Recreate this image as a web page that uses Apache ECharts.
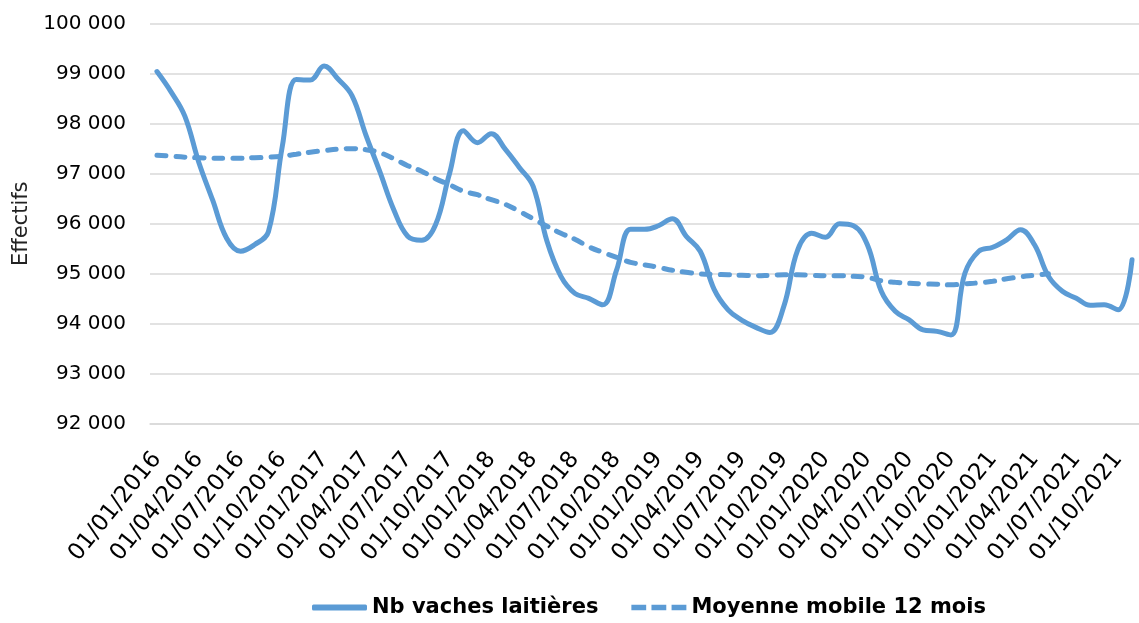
<!DOCTYPE html>
<html>
<head>
<meta charset="utf-8">
<script src="https://cdn.jsdelivr.net/npm/echarts@6.0.0/dist/echarts.min.js"></script>
<style>
  html, body { margin: 0; padding: 0; background: #fff; }
  #chart { width: 1139px; height: 623px; }
</style>
</head>
<body>
<div id="chart"></div>
<script>
// mois de janvier 2016 à novembre 2021
const months = [
  '01/01/2016', '01/02/2016', '01/03/2016', '01/04/2016', '01/05/2016', '01/06/2016',
  '01/07/2016', '01/08/2016', '01/09/2016', '01/10/2016', '01/11/2016', '01/12/2016',
  '01/01/2017', '01/02/2017', '01/03/2017', '01/04/2017', '01/05/2017', '01/06/2017',
  '01/07/2017', '01/08/2017', '01/09/2017', '01/10/2017', '01/11/2017', '01/12/2017',
  '01/01/2018', '01/02/2018', '01/03/2018', '01/04/2018', '01/05/2018', '01/06/2018',
  '01/07/2018', '01/08/2018', '01/09/2018', '01/10/2018', '01/11/2018', '01/12/2018',
  '01/01/2019', '01/02/2019', '01/03/2019', '01/04/2019', '01/05/2019', '01/06/2019',
  '01/07/2019', '01/08/2019', '01/09/2019', '01/10/2019', '01/11/2019', '01/12/2019',
  '01/01/2020', '01/02/2020', '01/03/2020', '01/04/2020', '01/05/2020', '01/06/2020',
  '01/07/2020', '01/08/2020', '01/09/2020', '01/10/2020', '01/11/2020', '01/12/2020',
  '01/01/2021', '01/02/2021', '01/03/2021', '01/04/2021', '01/05/2021', '01/06/2021',
  '01/07/2021', '01/08/2021', '01/09/2021', '01/10/2021', '01/11/2021'
]

// nombre de vaches laitières
const vaches = [
  99040, 98640, 98150, 97230, 96470, 95710, 95450, 95580, 95840, 97550, 98880, 98870,
  99150, 98890, 98560, 97770, 97040, 96280, 95750, 95670, 95980, 97000, 97860, 97620,
  97800, 97490, 97130, 96750, 95650, 94950, 94610, 94510, 94380, 95080, 95890, 95890,
  95960, 96100, 95750, 95450, 94690, 94280, 94070, 93930, 93830, 94350, 95480, 95810,
  95730, 96000, 95960, 95580, 94650, 94250, 94080, 93880, 93850, 93780, 95010, 95450,
  95530, 95680, 95880, 95580, 94950, 94650, 94510, 94370, 94380, 94280, 95280
]

// moyenne mobile 12 mois (s'arrête en mai 2021)
const moyenne = [
  97370, 97350, 97330, 97320, 97310, 97310, 97310, 97320, 97330, 97350, 97390, 97430,
  97460, 97490, 97500, 97480, 97420, 97300, 97160, 97050, 96900, 96780, 96650, 96580,
  96480, 96390, 96250, 96100, 95950, 95810, 95690, 95540, 95430, 95330, 95230, 95180,
  95130, 95070, 95030, 95000, 94990, 94980, 94970, 94960, 94970, 94980, 94980, 94970,
  94960, 94960, 94950, 94930, 94860, 94830, 94810, 94800, 94790, 94780, 94800, 94820,
  94850, 94900, 94940, 94970, 95000
]

const chart = echarts.init(document.getElementById('chart'))
const font = 'DejaVu Sans'
const blue = '#5b9bd5'

chart.setOption({
  animation: false,
  grid: {
    left: 150,
    right: 0,
    top: 23.5,
    bottom: 199
  },
  legend: {
    left: 307,
    top: 592,
    itemWidth: 55,
    itemHeight: 6,
    itemGap: 33,
    itemStyle: { color: blue },
    textStyle: {
      fontFamily: font,
      fontWeight: 'bold',
      fontSize: 21,
      color: '#000'
    },
    data: [
      { name: 'Nb vaches laitières', icon: 'roundRect' },
      { name: 'Moyenne mobile 12 mois', icon: 'path://M0,0h14v5h-14z M19,0h14v5h-14z M38,0h14v5h-14z' }
    ]
  },
  xAxis: {
    type: 'category',
    data: months,
    boundaryGap: true,
    axisLine: { lineStyle: { color: '#d9d9d9', width: 1.5 } },
    axisTick: { interval: 2, length: 9, lineStyle: { color: '#d9d9d9', width: 1.5 } },
    axisLabel: {
      interval: 2,
      rotate: 51,
      margin: 31,
      fontFamily: font,
      fontSize: 23,
      color: '#000'
    },
    splitLine: { show: false }
  },
  yAxis: {
    type: 'value',
    min: 92000,
    max: 100000,
    interval: 1000,
    name: 'Effectifs',
    nameLocation: 'middle',
    nameGap: 116,
    nameTextStyle: {
      fontFamily: font,
      fontSize: 21,
      color: '#222'
    },
    axisLine: { show: false },
    axisTick: { show: false },
    axisLabel: {
      margin: 24,
      fontFamily: font,
      fontSize: 20,
      color: '#000',
      formatter: v => String(v).replace(/\B(?=(\d{3})+(?!\d))/g, ' ')
    },
    splitLine: { lineStyle: { color: '#d9d9d9', width: 1.5 } }
  },
  series: [
    {
      name: 'Nb vaches laitières',
      type: 'line',
      data: vaches,
      smooth: 0.4,
      symbol: 'none',
      lineStyle: { color: blue, width: 5, cap: 'round', join: 'round' },
      itemStyle: { color: blue }
    },
    {
      name: 'Moyenne mobile 12 mois',
      type: 'line',
      data: moyenne,
      smooth: 0.4,
      symbol: 'none',
      lineStyle: { color: blue, width: 5, type: [9, 10], cap: 'round' },
      itemStyle: { color: blue }
    }
  ]
})
</script>
</body>
</html>
